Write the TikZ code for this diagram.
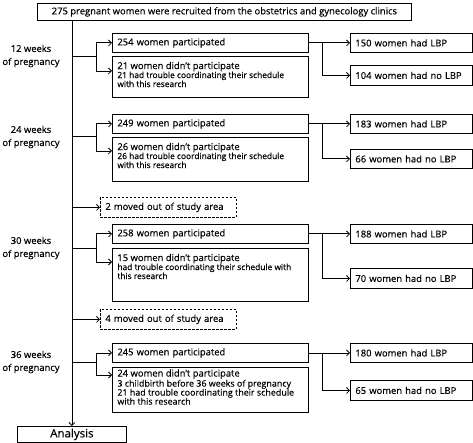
\documentclass[tikz,border=0pt]{standalone}
\usepackage{fontspec}
\setmainfont{Open Sans}[FakeBold=0.35]
\usetikzlibrary{arrows.meta}
\newcommand{\msz}{\fontsize{9.4}{11}\selectfont}
\newcommand{\ssz}{\fontsize{8.4}{9}\selectfont}
\begin{document}
\begin{tikzpicture}[x=1pt,y=-1pt,line width=0.8pt,
  arr/.style={-{Straight Barb[length=3pt,width=6pt]}},
  pbox/.style={draw,anchor=north west,inner xsep=5pt,inner ysep=0pt,minimum height=19pt,text width=186pt,align=left,font=\msz},
  lbox/.style={draw,anchor=north west,inner xsep=5pt,inner ysep=0pt,minimum height=19pt,text width=112pt,align=left,font=\msz},
  dbox/.style={draw,anchor=north west,minimum width=196pt,inner sep=0pt},
  dtxt/.style={anchor=north west,inner sep=0pt,align=left,font=\ssz},
  mbox/.style={draw,dash pattern=on 2.5pt off 1.5pt,anchor=north west,inner xsep=5pt,inner ysep=0pt,minimum height=20pt,text width=126pt,align=left,font=\msz},
  wk/.style={align=center,font=\fontsize{9.4}{13}\selectfont,inner sep=0pt},
]
\useasboundingbox (0,0) rectangle (473,443);

% top and analysis
\node[draw,anchor=north west,minimum width=374pt,minimum height=17pt,inner sep=0pt,font=\msz] (top) at (37,3) {275 pregnant women were recruited from the obstetrics and gynecology clinics};
\node[draw,anchor=north west,minimum width=109pt,minimum height=16pt,inner sep=0pt,font=\fontsize{11.5}{13}\selectfont] (ana) at (17,426) {Analysis};
\draw[arr] (top.south -| ana.north) -- (ana.north);

% ---------- 12 weeks
\node[wk] (w12) at (31,56) {12 weeks\\of pregnancy};
\node[pbox] (p12) at (112,33) {254 women participated};
\node[dbox,minimum height=41pt] (d12) at (112,56) {};
\node[dtxt] (t12) at (117,61.5) {{\msz 21 women didn't participate}\\21 had trouble coordinating their schedule\\with this research};
\node[lbox] (l12) at (350,33) {150 women had LBP};
\node[lbox,minimum height=20pt] (n12) at (350,65) {104 women had no LBP};
\coordinate (j12) at (96,56);
\coordinate (a12) at (112,71);
\coordinate (r12) at ([xshift=14pt]p12.east);
\draw (j12 -| ana.north) -- (j12);
\draw[arr] (j12) |- (p12);
\draw[arr] (j12) |- (a12);
\draw (p12.east) -- (r12);
\draw[arr] (r12) -- (r12 -| l12.west);
\draw[arr] (r12) |- (n12);

% ---------- 24 weeks
\node[wk] (w24) at (31,137) {24 weeks\\of pregnancy};
\node[pbox] (p24) at (112,114) {249 women participated};
\node[dbox,minimum height=44pt] (d24) at (112,137) {};
\node[dtxt] (t24) at (117,142.5) {{\msz 26 women didn't participate}\\26 had trouble coordinating their schedule\\with this research};
\node[lbox] (l24) at (350,114) {183 women had LBP};
\node[lbox] (n24) at (350,149) {66 women had no LBP};
\coordinate (j24) at (96,136);
\coordinate (a24) at (112,151);
\coordinate (r24) at ([xshift=14pt]p24.east);
\draw (j24 -| ana.north) -- (j24);
\draw[arr] (j24) |- (p24);
\draw[arr] (j24) |- (a24);
\draw (p24.east) -- (r24);
\draw[arr] (r24) -- (r24 -| l24.west);
\draw[arr] (r24) |- (n24);

\node[mbox] (m1) at (100,197) {2 moved out of study area};
\draw[arr] (m1.west -| ana.north) -- (m1.west);

% ---------- 30 weeks
\node[wk] (w30) at (31,248) {30 weeks\\of pregnancy};
\node[pbox] (p30) at (112,224) {258 women participated};
\node[dbox,minimum height=53pt] (d30) at (112,248) {};
\node[dtxt] (t30) at (117,253.5) {{\msz 15 women didn't participate}\\had trouble coordinating their schedule with\\this research};
\node[lbox] (l30) at (350,224) {188 women had LBP};
\node[lbox,minimum height=20pt] (n30) at (350,268) {70 women had no LBP};
\coordinate (j30) at (96,248);
\coordinate (a30) at (112,262);
\coordinate (r30) at ([xshift=14pt]p30.east);
\draw (j30 -| ana.north) -- (j30);
\draw[arr] (j30) |- (p30);
\draw[arr] (j30) |- (a30);
\draw (p30.east) -- (r30);
\draw[arr] (r30) -- (r30 -| l30.west);
\draw[arr] (r30) |- (n30);

\node[mbox] (m2) at (100,309) {4 moved out of study area};
\draw[arr] (m2.west -| ana.north) -- (m2.west);

% ---------- 36 weeks
\node[wk] (w36) at (31,362) {36 weeks\\of pregnancy};
\node[pbox] (p36) at (112,343) {245 women participated};
\node[dbox,minimum height=45pt] (d36) at (112,367) {};
\node[dtxt,font=\fontsize{8.9}{9}\selectfont] (t36) at (117,369) {{\msz 24 women didn't participate}\\3 childbirth before 36 weeks of pregnancy\\21 had trouble coordinating their schedule\\with this research};
\node[lbox] (l36) at (350,343) {180 women had LBP};
\node[lbox,minimum height=20pt] (n36) at (350,380) {65 women had no LBP};
\coordinate (j36) at (96,362);
\coordinate (a36) at (112,375);
\coordinate (r36) at ([xshift=14pt]p36.east);
\draw (j36 -| ana.north) -- (j36);
\draw[arr] (j36) |- (p36);
\draw[arr] (j36) |- (a36);
\draw (p36.east) -- (r36);
\draw[arr] (r36) -- (r36 -| l36.west);
\draw[arr] (r36) |- (n36);
\end{tikzpicture}
\end{document}
